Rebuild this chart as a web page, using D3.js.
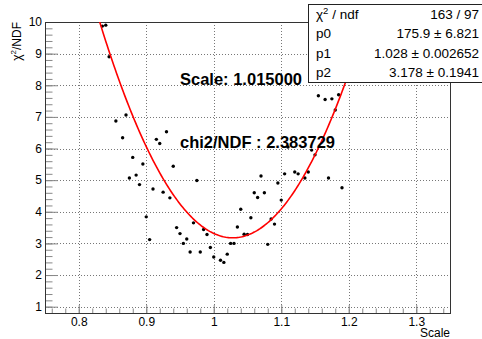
<!DOCTYPE html>
<meta charset="utf-8">
<script src="https://d3js.org/d3.v7.min.js"></script>
<style>
body { margin: 0; background: #fff; }
text { font-family: "Liberation Sans", Arial, sans-serif; fill: #000; }
.grid line { stroke: #777; stroke-width: 1; stroke-dasharray: 1,2; }
.axis .tick line { stroke: #888; }
.axis text { font-size: 12px; }
</style>
<div id="chart"></div>
<script>
// scanned points (Scale, chi2/NDF)
var scaleVals = [0.835, 0.84, 0.845, 0.855, 0.865, 0.87, 0.875, 0.88, 0.885, 0.89,
  0.895, 0.9, 0.905, 0.91, 0.915, 0.92, 0.925, 0.93, 0.935, 0.94,
  0.945, 0.95, 0.955, 0.96, 0.965, 0.97, 0.975, 0.98, 0.985, 0.99,
  0.995, 1.0, 1.01, 1.015, 1.02, 1.025, 1.03, 1.035, 1.04, 1.045,
  1.05, 1.055, 1.06, 1.065, 1.07, 1.075, 1.08, 1.085, 1.09, 1.095,
  1.1, 1.105, 1.11, 1.12, 1.125, 1.135, 1.14, 1.145, 1.15, 1.155,
  1.165, 1.17, 1.175, 1.18, 1.185, 1.19];
var chi2Vals = [9.87, 9.90, 8.90, 6.87, 6.34, 7.06, 5.07, 5.72, 5.16, 4.86,
  5.51, 3.84, 3.12, 4.72, 6.29, 6.16, 4.62, 6.53, 4.44, 5.44,
  3.50, 3.31, 3.00, 3.14, 2.73, 3.65, 4.99, 2.73, 3.44, 3.28,
  2.87, 2.57, 2.47, 2.40, 2.66, 3.00, 3.00, 3.52, 4.08, 3.29,
  3.28, 3.81, 4.60, 4.45, 5.13, 4.60, 2.97, 3.77, 3.61, 4.91,
  4.37, 5.20, 6.05, 5.26, 5.20, 5.07, 5.26, 5.95, 5.80, 7.67,
  7.55, 5.07, 7.57, 7.22, 7.70, 4.76];

// fit: p0*(x-p1)^2 + p2
var fitPar = [175.9, 1.028, 3.178];
var statNames = ["p0", "p1", "p2"];
var statTexts = ["175.9 \u00b1 6.821", "1.028 \u00b1 0.002652", "3.178 \u00b1 0.1941"];
var chiNdfText = "163 / 97";
var xTickVals = [0.8, 0.9, 1, 1.1, 1.2, 1.3];
var yTickVals = [1, 2, 3, 4, 5, 6, 7, 8, 9, 10];
var notes = ["Scale: 1.015000", "chi2/NDF : 2.383729"];

var W = 482, H = 339;
var fx0 = 45, fx1 = 450, fy0 = 22, fy1 = 313;

var svg = d3.select("#chart").append("svg").attr("width", W).attr("height", H);

var x = d3.scaleLinear().domain([0.75, 1.35]).range([fx0, fx1]);
var y = d3.scaleLinear().domain([0.8, 10]).range([fy1, fy0]);

svg.append("defs").append("clipPath").attr("id", "frameclip")
  .append("rect").attr("x", fx0).attr("y", fy0).attr("width", fx1 - fx0).attr("height", fy1 - fy0);

// grid
var grid = svg.append("g").attr("class", "grid");
grid.selectAll(".gx").data(xTickVals).enter().append("line")
  .attr("x1", function(d) { return Math.round(x(d)) + 0.5; })
  .attr("x2", function(d) { return Math.round(x(d)) + 0.5; })
  .attr("y1", fy0).attr("y2", fy1);
grid.selectAll(".gy").data(yTickVals).enter().append("line")
  .attr("y1", function(d) { return Math.round(y(d)) + 0.5; })
  .attr("y2", function(d) { return Math.round(y(d)) + 0.5; })
  .attr("x1", fx0).attr("x2", fx1);

// minor ticks
svg.append("g").attr("class", "axis").attr("transform", "translate(0," + fy1 + ")")
  .call(d3.axisBottom(x).ticks(30).tickSizeInner(-4.5).tickSizeOuter(0).tickFormat(""))
  .select(".domain").remove();
svg.append("g").attr("class", "axis").attr("transform", "translate(" + fx0 + ",0)")
  .call(d3.axisLeft(y).ticks(46).tickSizeInner(-7.5).tickSizeOuter(0).tickFormat(""))
  .select(".domain").remove();

// major ticks + labels
var xa = svg.append("g").attr("class", "axis").attr("transform", "translate(0," + fy1 + ")")
  .call(d3.axisBottom(x).tickValues(xTickVals).tickSizeInner(-8).tickSizeOuter(0).tickPadding(4).tickFormat(d3.format("")));
xa.select(".domain").remove();
var ya = svg.append("g").attr("class", "axis").attr("transform", "translate(" + fx0 + ",0)")
  .call(d3.axisLeft(y).tickValues(yTickVals).tickSizeInner(-13).tickSizeOuter(0).tickPadding(3));
ya.select(".domain").remove();
svg.selectAll(".axis text").style("font-family", "Liberation Sans, Arial, sans-serif").attr("fill", "#111");

// frame
svg.append("rect").attr("x", fx0 + 0.5).attr("y", fy0 + 0.5)
  .attr("width", fx1 - fx0).attr("height", fy1 - fy0)
  .attr("fill", "none").attr("stroke", "#333").attr("stroke-width", 1);

// axis titles
svg.append("text").attr("x", fx1).attr("y", 337).attr("text-anchor", "end")
  .style("font-size", "12px").text("Scale");
var yt = svg.append("text").attr("transform", "translate(21," + fy0 + ") rotate(-90)")
  .attr("text-anchor", "end").style("font-size", "12px");
yt.append("tspan").text("\u03c7");
yt.append("tspan").attr("dy", -5).style("font-size", "8px").text("2");
yt.append("tspan").attr("dy", 5).text("/NDF");

// points
svg.append("g").selectAll("circle").data(scaleVals).enter().append("circle")
  .attr("cx", function(d) { return x(d); })
  .attr("cy", function(d, i) { return y(chi2Vals[i]); })
  .attr("r", 1.7).attr("fill", "#000");

// fit curve
var fitX = d3.range(0.8, 1.25, 0.002);
var fitLine = d3.line()
  .x(function(d) { return x(d); })
  .y(function(d) { return y(fitPar[0] * (d - fitPar[1]) * (d - fitPar[1]) + fitPar[2]); });
svg.append("path").datum(fitX).attr("clip-path", "url(#frameclip)")
  .attr("d", fitLine).attr("fill", "none").attr("stroke", "#f00").attr("stroke-width", 1.6);

// notes
svg.selectAll(".note").data(notes).enter().append("text")
  .attr("x", 180).attr("y", function(d, i) { return i == 0 ? 85 : 148; })
  .style("font-size", "16.5px").style("font-weight", "bold").text(function(d) { return d; });

// stats box
var bx = 308, by = 4, bh = 78, rowH = bh / 4;
svg.append("rect").attr("x", bx + 0.5).attr("y", by + 0.5).attr("width", 200).attr("height", bh)
  .attr("fill", "#fff").attr("stroke", "#222");
var st = svg.append("g").style("font-size", "13.5px");
var t0 = st.append("text").attr("x", 316).attr("y", by + rowH * 0.5 + 4.8);
t0.append("tspan").text("\u03c7");
t0.append("tspan").attr("dy", -5).style("font-size", "9.5px").text("2");
t0.append("tspan").attr("dy", 5).text(" / ndf");
st.append("text").attr("x", 479).attr("y", by + rowH * 0.5 + 4.8).attr("text-anchor", "end").text(chiNdfText);
statNames.forEach(function(n, i) {
  var yy = by + rowH * (i + 1.5) + 4.8;
  st.append("text").attr("x", 316).attr("y", yy).text(n);
  st.append("text").attr("x", 479).attr("y", yy).attr("text-anchor", "end").text(statTexts[i]);
});
</script>
